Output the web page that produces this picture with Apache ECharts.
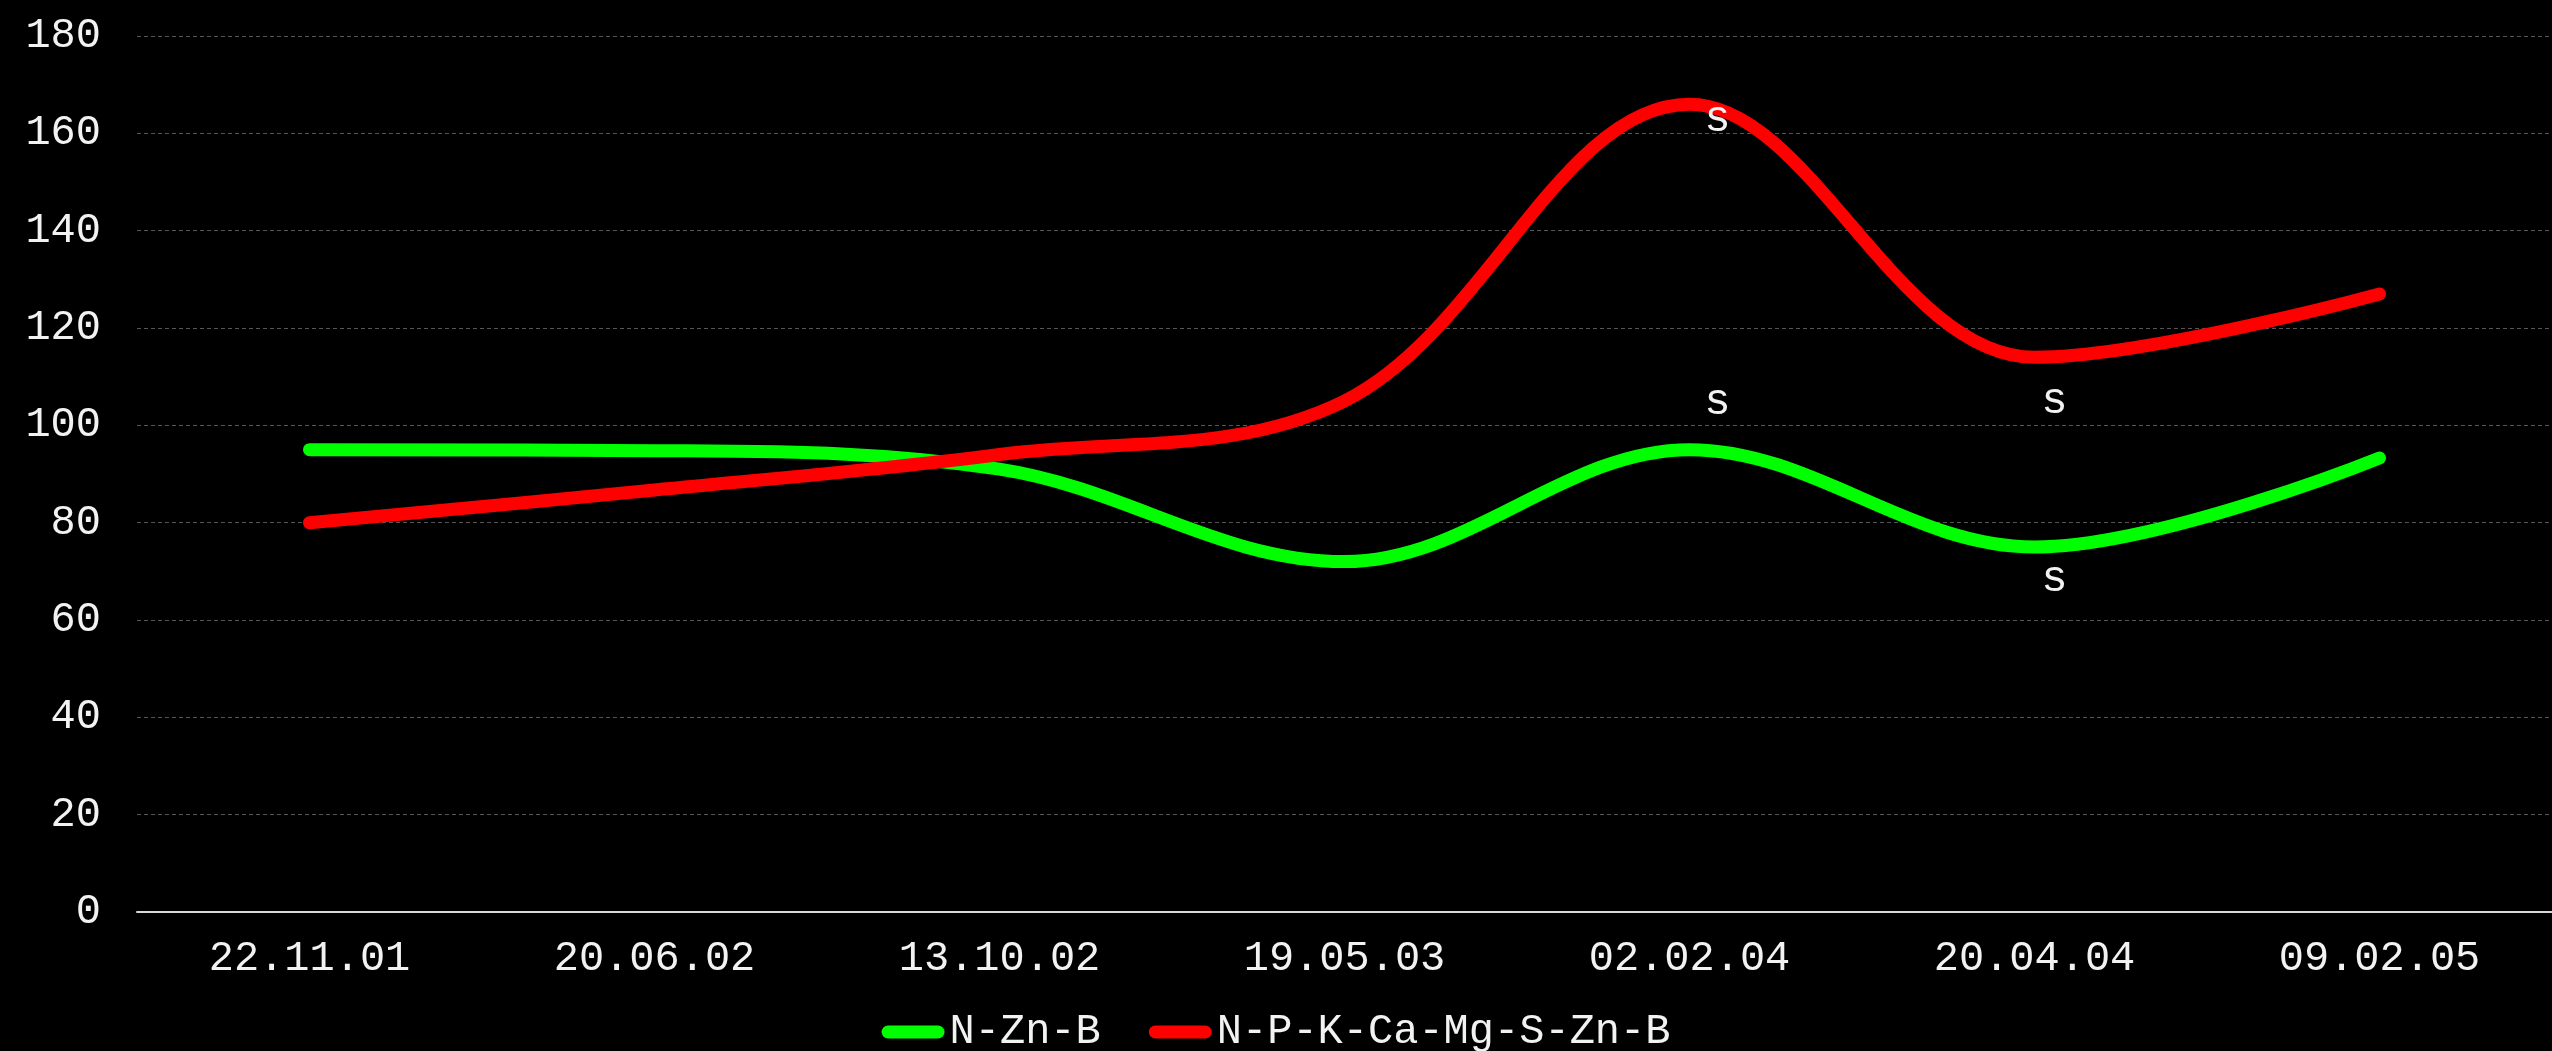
<!DOCTYPE html>
<html>
<head>
<meta charset="utf-8">
<style>
  html, body { margin: 0; padding: 0; background: #000; }
  #chart { width: 2552px; height: 1051px; }
</style>
<script src="https://cdn.jsdelivr.net/npm/echarts@6/dist/echarts.min.js"></script>
</head>
<body>
<div id="chart"></div>
<script>
// Sampling dates
const categories = ['22.11.01', '20.06.02', '13.10.02', '19.05.03', '02.02.04', '20.04.04', '09.02.05'];

// Series names
const seriesNames = ['N-Zn-B', 'N-P-K-Ca-Mg-S-Zn-B'];

// Values per date
const nZnB = [95, 94.8, 91, 72, 95, 75, 93.3];
const npkFull = [80, 86.7, 94, 105, 166, 114, 127];

// Significance marks: [date index, text]
const marksNZnB = [[4, 's'], [5, 's']];
const marksNpk = [[4, 's'], [5, 's']];

// Y axis range
const yMin = 0, yMax = 180, yStep = 20;

const FONT = 'Liberation Mono';
const TEXT = '#f2f2f2';

// Label offsets keep the marks clear of the thick lines
const markOffsets = {
  green: { 4: [28, -47], 5: [20, 32] },
  red:   { 4: [28, 15],  5: [20, 44] }
};

function buildData(values, marks, offsets) {
  const byIndex = {};
  marks.forEach(m => { byIndex[m[0]] = m[1]; });
  return values.map((v, i) => {
    if (byIndex[i] === undefined) return v;
    return {
      value: v,
      label: {
        show: true,
        position: 'inside',
        offset: offsets[i],
        formatter: byIndex[i],
        color: TEXT,
        fontFamily: FONT,
        fontSize: 44
      }
    };
  });
}

const chart = echarts.init(document.getElementById('chart'), null, { renderer: 'canvas' });

const pillIcon = 'path://M6.5,0 H56.5 A6.5,6.5 0 0 1 56.5,13 H6.5 A6.5,6.5 0 0 1 6.5,0 Z';

function lineSeries(name, color, values, marks, offsets, z) {
  return {
    name: name,
    type: 'line',
    smooth: 0.36,
    symbol: 'circle',
    symbolSize: 0,
    showSymbol: true,
    color: color,
    itemStyle: { color: color },
    lineStyle: { width: 13, color: color, cap: 'round', join: 'round' },
    label: { show: false },
    data: buildData(values, marks, offsets),
    z: z
  };
}

chart.setOption({
  backgroundColor: '#000000',
  animation: false,
  textStyle: { fontFamily: FONT },
  grid: { left: 137, right: -8, top: 36, bottom: 139, containLabel: false },
  legend: {
    data: seriesNames,
    left: 'center',
    top: 1011,
    padding: 0,
    itemWidth: 63,
    itemHeight: 13,
    itemGap: 48,
    icon: pillIcon,
    textStyle: { color: TEXT, fontFamily: FONT, fontSize: 42 }
  },
  xAxis: {
    type: 'category',
    data: categories,
    boundaryGap: true,
    axisLine: { show: true, lineStyle: { color: '#d9d9d9', width: 2 } },
    axisTick: { show: false },
    axisLabel: { color: TEXT, fontFamily: FONT, fontSize: 42, margin: 26 },
    splitLine: { show: false }
  },
  yAxis: {
    type: 'value',
    min: yMin,
    max: yMax,
    interval: yStep,
    axisLine: { show: false },
    axisTick: { show: false },
    axisLabel: { color: TEXT, fontFamily: FONT, fontSize: 42, margin: 36 },
    splitLine: { show: true, lineStyle: { color: '#555555', width: 1, type: [4, 3] } }
  },
  series: [
    lineSeries(seriesNames[0], '#00ff00', nZnB, marksNZnB, markOffsets.green, 2),
    lineSeries(seriesNames[1], '#ff0000', npkFull, marksNpk, markOffsets.red, 3)
  ]
});
</script>
</body>
</html>
